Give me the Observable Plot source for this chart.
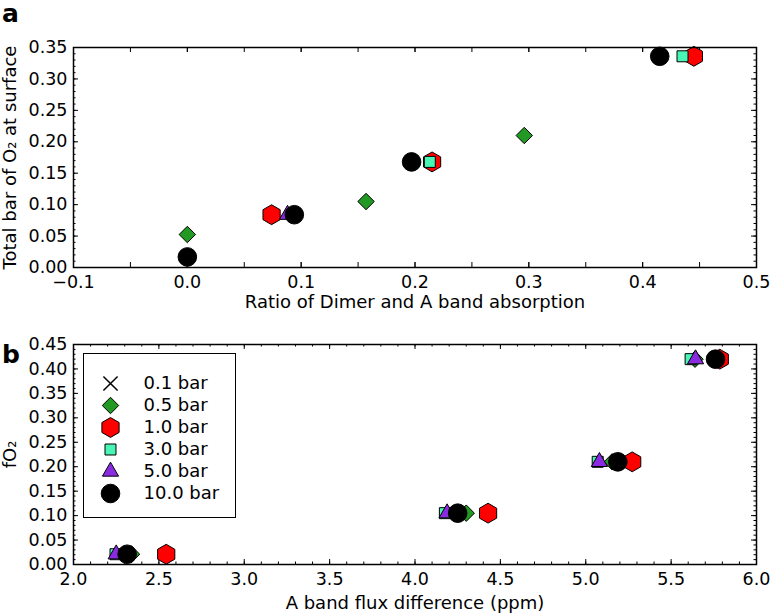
<!DOCTYPE html>
<html><head><meta charset="utf-8">
<script src="https://cdn.jsdelivr.net/npm/d3@7"></script>
<script src="https://cdn.jsdelivr.net/npm/@observablehq/plot@0.6"></script>
<style>
body{margin:0;background:#fff;font-family:"DejaVu Sans",sans-serif;}
#wrap{position:relative;width:772px;height:615px;overflow:hidden;}
.panel{position:absolute;left:0;}
.tag{position:absolute;font-weight:bold;font-size:25px;line-height:1;font-family:"DejaVu Sans",sans-serif;}
#legend{position:absolute;left:83px;top:353px;width:151px;height:163px;border:1.5px solid #000;background:#fff;}
</style></head><body>
<div id="wrap">
  <div id="pa" class="panel" style="top:0"></div>
  <div id="pb" class="panel" style="top:315px"></div>
  <div class="tag" style="left:2px;top:1px">a</div>
  <div class="tag" style="left:2px;top:342px">b</div>
  <div id="legend"></div>
</div>
<script>
// ---- series ----
const seriesLabels = ["0.1 bar","0.5 bar","1.0 bar","3.0 bar","5.0 bar","10.0 bar"];

// ---- panel a data: ratio of dimer and A band absorption vs total bar O2 ----
const ratioA_05 = [0.0, 0.157, 0.296];
const o2A_05    = [0.0525, 0.105, 0.21];
const ratioA_10 = [0.074, 0.215, 0.445];
const o2A_10    = [0.084, 0.168, 0.336];
const ratioA_30 = [0.213, 0.435];
const o2A_30    = [0.168, 0.336];
const ratioA_50 = [0.088];
const o2A_50    = [0.084];
const ratioA_100 = [0.0, 0.094, 0.197, 0.415];
const o2A_100    = [0.0168, 0.084, 0.168, 0.336];

// ---- panel b data: A band flux difference vs fO2 ----
const fO2 = [0.021, 0.105, 0.21, 0.42];
const fluxB_05  = [2.34, 4.30, 5.155, 5.64];
const fluxB_10  = [2.543, 4.428, 5.272, 5.785];
const fluxB_30  = [2.246, 4.175, 5.07, 5.614];
const fluxB_50  = [2.25, 4.188, 5.08, 5.643];
const fluxB_100 = [2.314, 4.25, 5.188, 5.76];

// ---- tick labels ----
const xTicksA = [-0.1, 0.0, 0.1, 0.2, 0.3, 0.4, 0.5];
const yTicksA = [0.00, 0.05, 0.10, 0.15, 0.20, 0.25, 0.30, 0.35];
const xTicksB = [2.0, 2.5, 3.0, 3.5, 4.0, 4.5, 5.0, 5.5, 6.0];
const yTicksB = [0.00, 0.05, 0.10, 0.15, 0.20, 0.25, 0.30, 0.35, 0.40, 0.45];

// ---- styles (per series) ----
const style = {
  "0.1 bar":  {symbol:"times",    fill:"none",    stroke:"#000", r:6.5, strokeWidth:1.5},
  "0.5 bar":  {symbol:"diamond2", fill:"#229922", stroke:"#000", r:7.4, strokeWidth:1},
  "1.0 bar":  {symbol:"hexagon",  fill:"#ff0000", stroke:"#000", r:8.6, strokeWidth:1},
  "3.0 bar":  {symbol:"square",   fill:"#48f5b4", stroke:"#000", r:6.2, strokeWidth:1},
  "5.0 bar":  {symbol:"triangle", fill:"#8a2be2", stroke:"#000", r:6.0, strokeWidth:1},
  "10.0 bar": {symbol:"circle",   fill:"#000000", stroke:"#000", r:9.3, strokeWidth:1}
};

const zip = (xs, ys) => xs.map((x, i) => ({x, y: ys[i]}));
const seriesA = [
  ["0.5 bar", zip(ratioA_05, o2A_05)],
  ["1.0 bar", zip(ratioA_10, o2A_10)],
  ["3.0 bar", zip(ratioA_30, o2A_30)],
  ["5.0 bar", zip(ratioA_50, o2A_50)],
  ["10.0 bar", zip(ratioA_100, o2A_100)]
];
const seriesB = [
  ["0.5 bar", zip(fluxB_05, fO2)],
  ["1.0 bar", zip(fluxB_10, fO2)],
  ["3.0 bar", zip(fluxB_30, fO2)],
  ["5.0 bar", zip(fluxB_50, fO2)],
  ["10.0 bar", zip(fluxB_100, fO2)]
];

const FONT = "DejaVu Sans";
const FS = "17.5px";
const innerH = 220;

function tickMarks(xMajor, xMinor, xLen, xMinLen, yMajor, yMinor, yLen, yMinLen, innerW) {
  const m = [];
  const add = (vals, len, horiz) => {
    if (horiz) {
      m.push(Plot.tickX(vals, {x: Plot.identity, insetTop: innerH - len, stroke: "#000", strokeWidth: 1}));
      m.push(Plot.tickX(vals, {x: Plot.identity, insetBottom: innerH - len, stroke: "#000", strokeWidth: 1}));
    } else {
      m.push(Plot.tickY(vals, {y: Plot.identity, insetRight: innerW - len, stroke: "#000", strokeWidth: 1}));
      m.push(Plot.tickY(vals, {y: Plot.identity, insetLeft: innerW - len, stroke: "#000", strokeWidth: 1}));
    }
  };
  add(xMinor, xMinLen, true);
  add(xMajor, xLen, true);
  add(yMinor, yMinLen, false);
  add(yMajor, yLen, false);
  return m;
}

function dots(series) {
  return series.map(([lab, data]) => Plot.dot(data, {x: "x", y: "y", ...style[lab]}));
}

const W = 772, mL = 73, mR = 16;
const innerW = W - mL - mR;

// ---- panel a ----
const minorXA = d3.range(-0.1, 0.5001, 0.05).map(v => +v.toFixed(3));
const minorYA = d3.range(0, 0.3501, 0.01).map(v => +v.toFixed(3));
const plotA = Plot.plot({
  width: W, height: 315,
  marginLeft: mL, marginRight: mR, marginTop: 47, marginBottom: 48,
  style: {fontFamily: FONT, fontSize: FS, background: "#fff", color: "#000"},
  x: {domain: [-0.1, 0.5]},
  y: {domain: [0, 0.35]},
  marks: [
    ...tickMarks(xTicksA, minorXA, 5, 5, yTicksA, minorYA, 5, 2.5, innerW),
    Plot.axisX(xTicksA, {tickSize: 0, tickPadding: 8, tickFormat: d3.format(".1f"), label: null}),
    Plot.axisX({ticks: [], label: "Ratio of Dimer and A band absorption", labelAnchor: "center", labelOffset: 40, labelArrow: "none", fontSize: 18}),
    Plot.axisY(yTicksA, {tickSize: 0, tickPadding: 6, tickFormat: d3.format(".2f"), label: null}),
    Plot.axisY({ticks: [], label: "Total bar of O₂ at surface", labelAnchor: "center", labelOffset: 70, labelArrow: "none", fontSize: 18}),
    ...dots(seriesA),
    Plot.frame({stroke: "#000", strokeWidth: 1.5})
  ]
});
document.getElementById("pa").append(plotA);

// ---- panel b ----
const minorXB = d3.range(2, 6.0001, 0.1).map(v => +v.toFixed(3));
const minorYB = d3.range(0, 0.4501, 0.01).map(v => +v.toFixed(3));
const plotB = Plot.plot({
  width: W, height: 300,
  marginLeft: mL, marginRight: mR, marginTop: 29, marginBottom: 51,
  style: {fontFamily: FONT, fontSize: FS, background: "#fff", color: "#000"},
  x: {domain: [2, 6]},
  y: {domain: [0, 0.45]},
  marks: [
    ...tickMarks(xTicksB, minorXB, 5, 2.5, yTicksB, minorYB, 5, 2.5, innerW),
    Plot.axisX(xTicksB, {tickSize: 0, tickPadding: 8, tickFormat: d3.format(".1f"), label: null}),
    Plot.axisX({ticks: [], label: "A band flux difference (ppm)", labelAnchor: "center", labelOffset: 44, labelArrow: "none", fontSize: 18}),
    Plot.axisY(yTicksB, {tickSize: 0, tickPadding: 6, tickFormat: d3.format(".2f"), label: null}),
    Plot.axisY({ticks: [], label: "fO₂", labelAnchor: "center", labelOffset: 70, labelArrow: "none", fontSize: 18}),
    ...dots(seriesB),
    Plot.frame({stroke: "#000", strokeWidth: 1.5})
  ]
});
document.getElementById("pb").append(plotB);

// ---- legend (inside panel b) ----
const legendData = seriesLabels.map(label => ({label}));
const legend = Plot.plot({
  width: 151, height: 163,
  margin: 0,
  style: {fontFamily: FONT, fontSize: "18px", background: "transparent", color: "#000"},
  x: {domain: [0, 1], axis: null},
  y: {type: "point", domain: seriesLabels, range: [17, 151], axis: null},
  marks: [
    ...seriesLabels.map(lab => Plot.dot(legendData.filter(d => d.label === lab),
      {y: "label", frameAnchor: "left", dx: 26, ...style[lab]})),
    Plot.text(legendData, {y: "label", text: "label", frameAnchor: "left", dx: 59, textAnchor: "start", fontSize: 18})
  ]
});
document.getElementById("legend").append(legend);
</script>
</body></html>
